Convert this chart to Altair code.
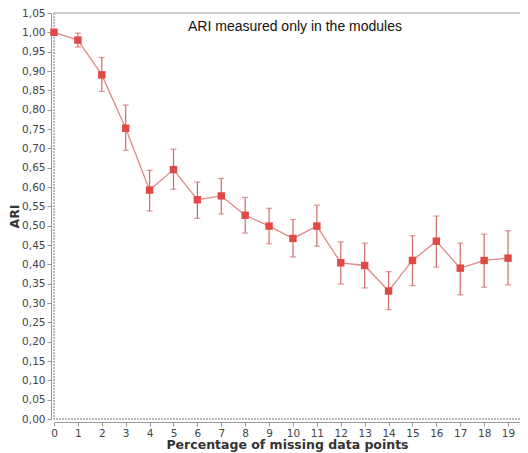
import altair as alt
import pandas as pd

xs = list(range(20))
ari = [1.000, 0.980, 0.890, 0.752, 0.592, 0.645, 0.567, 0.577, 0.527, 0.499,
       0.467, 0.499, 0.404, 0.397, 0.331, 0.410, 0.460, 0.390, 0.410, 0.416]
lo = [0.995, 0.962, 0.847, 0.695, 0.538, 0.594, 0.519, 0.530, 0.481, 0.453,
      0.419, 0.447, 0.349, 0.339, 0.283, 0.345, 0.393, 0.321, 0.341, 0.347]
hi = [1.000, 0.998, 0.935, 0.812, 0.643, 0.698, 0.613, 0.622, 0.573, 0.545,
      0.516, 0.553, 0.458, 0.455, 0.381, 0.474, 0.525, 0.455, 0.478, 0.487]
y_ticks = [round(i * 0.05, 2) for i in range(22)]
title_text = "ARI measured only in the modules"

df = pd.DataFrame({"x": xs, "ari": ari, "lo": lo, "hi": hi})

xscale = alt.Scale(domain=[0, 19.5], nice=False, zero=False)
yscale = alt.Scale(domain=[0, 1.05], nice=False)

xaxis = alt.Axis(title="Percentage of missing data points", values=xs, grid=False,
                 offset=3, domainColor="#999", tickColor="#999", tickSize=4,
                 labelColor="#444", labelFont="DejaVu Sans", labelFontSize=10.5,
                 labelOverlap=False, labelFlush=False,
                 titleFont="DejaVu Sans", titleFontSize=12.5, titleFontWeight="bold",
                 titleColor="#333", labelPadding=2, titlePadding=0)
yaxis = alt.Axis(title="ARI", values=y_ticks, grid=False, offset=3,
                 labelExpr="replace(format(datum.value, '.2f'), '.', ',')",
                 labelOverlap=False, labelFlush=False,
                 domainColor="#999", tickColor="#999", tickSize=4,
                 labelColor="#444", labelFont="DejaVu Sans", labelFontSize=10.5,
                 titleFont="DejaVu Sans", titleFontSize=12.5, titleFontWeight="bold",
                 titleColor="#333", labelPadding=2,
                 titleX=-37, titleY=203, titleAngle=270, titleAlign="center",
                 titleBaseline="middle")


def X(f):
    return alt.X(f, scale=xscale, axis=xaxis)


def Y(f):
    return alt.Y(f, scale=yscale, axis=yaxis)


base = alt.Chart(df)

line = base.mark_line(color="#e08a88", strokeWidth=1.3).encode(x=X("x:Q"), y=Y("ari:Q"))
rules = base.mark_rule(color="#cf6a68", strokeWidth=1.2).encode(
    x=X("x:Q"), y=Y("lo:Q"), y2="hi:Q")
cap_lo = base.mark_tick(color="#cf6a68", orient="horizontal", size=6, thickness=1.2).encode(
    x=X("x:Q"), y=Y("lo:Q"))
cap_hi = base.mark_tick(color="#cf6a68", orient="horizontal", size=6, thickness=1.2).encode(
    x=X("x:Q"), y=Y("hi:Q"))
points = base.mark_square(color="#e04a45", size=55, opacity=1).encode(
    x=X("x:Q"), y=Y("ari:Q"))

zero_df = pd.DataFrame({"v": [0]})
vline = alt.Chart(zero_df).mark_rule(color="#777", strokeDash=[2, 1], strokeWidth=1).encode(
    x=X("v:Q"))
hline = alt.Chart(zero_df).mark_rule(color="#777", strokeDash=[2, 1], strokeWidth=1).encode(
    y=Y("v:Q"))
top_df = pd.DataFrame({"v": [1.05]})
topline = alt.Chart(top_df).mark_rule(color="#999", strokeWidth=1).encode(y=Y("v:Q"))

title = alt.Chart(pd.DataFrame({"t": [title_text]})).mark_text(
    font="Liberation Sans", fontSize=14, color="#111", align="center", baseline="middle"
).encode(text="t:N", x=alt.value(241), y=alt.value(14))

chart = alt.layer(line, vline, hline, topline, rules, cap_lo, cap_hi, points, title).properties(
    width=466, height=406,
    autosize=alt.AutoSizeParams(type="none"),
    padding={"left": 46, "top": 5, "right": 0, "bottom": 34},
).configure_view(stroke=None)

chart.save("out.html", embed_options={"renderer": "svg", "actions": False})
